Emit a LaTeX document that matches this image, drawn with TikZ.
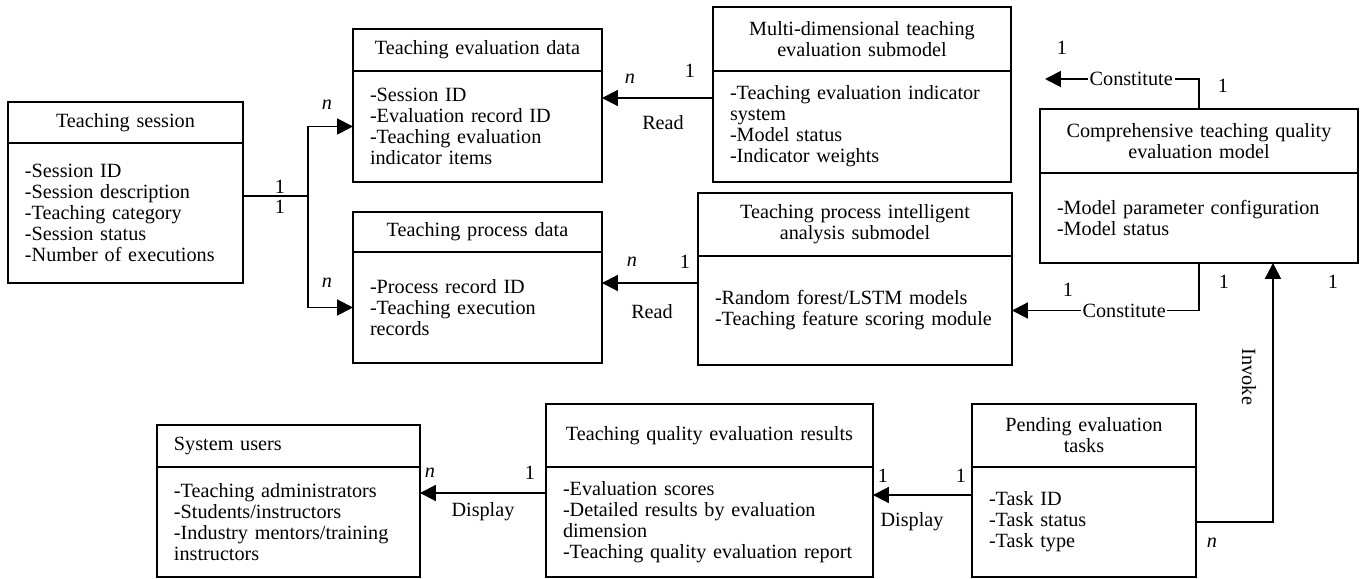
\documentclass[tikz,border=0pt]{standalone}
\usepackage{fontspec}
\setmainfont{Liberation Serif}
\usetikzlibrary{arrows.meta, positioning}

\tikzset{
    every node/.style={font=\fontsize{11.5}{12}\selectfont},
    head/.style={draw, line width=1.1pt, anchor=north west, inner xsep=0.34cm, inner ysep=0pt, outer sep=0pt, align=center},
    body/.style={draw, line width=1.1pt, anchor=north west, inner xsep=0.34cm, inner ysep=0pt, outer sep=0pt, align=left},
    conn/.style={line width=1.1pt},
    arr/.style={conn, -{Triangle[length=9pt, width=9pt]}},
    cut/.style={fill=white, inner sep=1pt}
}

\begin{document}
\begin{tikzpicture}[x=0.02cm, y=-0.02cm]
                    \useasboundingbox (0,0) rectangle (1365,578);

                    \node[head, text width=4.02cm, minimum height=0.82cm] (sess) at (8,102) {Teaching session};
                    \node[body, text width=4.02cm, minimum height=2.80cm] (sessB) at (8,143) {-Session ID\\-Session description\\-Teaching category\\-Session status\\-Number of executions};

                    \node[head, text width=4.30cm, minimum height=0.84cm] (evd) at (353,29) {Teaching evaluation data};
                    \node[body, text width=4.30cm, minimum height=2.22cm] (evdB) at (353,71) {-Session ID\\-Evaluation record ID\\-Teaching evaluation\\indicator items};

                    \node[head, text width=4.30cm, minimum height=0.80cm] (tpd) at (353,212) {Teaching process data};
                    \node[body, text width=4.30cm, minimum height=2.22cm] (tpdB) at (353,252) {-Process record ID\\-Teaching execution\\records};

                    \node[head, text width=5.28cm, minimum height=1.28cm] (multi) at (713,7) {Multi-dimensional teaching\\evaluation submodel};
                    \node[body, text width=5.28cm, minimum height=2.22cm] (multiB) at (713,71) {-Teaching evaluation indicator\\system\\-Model status\\-Indicator weights};

                    \node[head, text width=5.60cm, minimum height=1.26cm] (tps) at (698,193) {Teaching process intelligent\\analysis submodel};
                    \node[body, text width=5.60cm, minimum height=2.18cm] (tpsB) at (698,256) {-Random forest/LSTM models\\-Teaching feature scoring module};

                    \node[head, text width=5.68cm, minimum height=1.28cm] (comp) at (1040,109) {Comprehensive teaching quality\\evaluation model};
                    \node[body, text width=5.68cm, minimum height=1.80cm] (compB) at (1040,173) {-Model parameter configuration\\-Model status};

                    \node[head, align=left, text width=4.58cm, minimum height=0.84cm] (users) at (157,425) {System users};
                    \node[body, text width=4.58cm, minimum height=2.20cm] (usersB) at (157,467) {-Teaching administrators\\-Students/instructors\\-Industry mentors/training\\instructors};

                    \node[head, text width=5.86cm, minimum height=1.26cm] (res) at (546,404) {Teaching quality evaluation results};
                    \node[body, text width=5.86cm, minimum height=2.20cm] (resB) at (546,467) {-Evaluation scores\\-Detailed results by evaluation\\dimension\\-Teaching quality evaluation report};

                    \node[head, text width=3.80cm, minimum height=1.26cm] (pend) at (972,404) {Pending evaluation\\tasks};
                    \node[body, text width=3.80cm, minimum height=2.20cm] (pendB) at (972,467) {-Task ID\\-Task status\\-Task type};

                    % session splits into the two data stores
                    \coordinate (split) at (308,196);
                    \draw[conn] (sessB.east |- split) -- (split);
                    \draw[arr] (split) |- (evdB.west);
                    \draw[arr] (split) |- (tpdB.west);

                    \draw[arr] (multiB.west |- 0,98) -- (evdB.east |- 0,98);
                    \draw[arr] (tpsB.west |- 0,283) -- (tpdB.east |- 0,283);

                    \coordinate (cfree) at (1045,79);
                    \draw[arr] (comp.north) |- node[cut, pos=0.72] (cst1) {Constitute} (cfree);
                    \draw[arr] (compB.south) |- node[cut, pos=0.70] (cst2) {Constitute} (tpsB.east);
                    \draw[arr] (pendB.east) -| node[pos=0.78, rotate=-90, anchor=north, inner sep=9pt] (inv) {Invoke} ([xshift=1.48cm]compB.south);

                    \draw[arr] (pendB.west |- 0,495) -- (resB.east |- 0,495);
                    \draw[arr] (resB.west |- 0,493) -- (usersB.east |- 0,493);

                    % multiplicities and relation names
                    \node (s1) at (280,187) {1};
                    \node (s2) at (280,207) {1};
                    \node (s3) at (327,105) {\textit{n}};
                    \node (s4) at (327,283) {\textit{n}};
                    \node (e1) at (630,79) {\textit{n}};
                    \node (e2) at (690,71) {1};
                    \node (rd1) at (663,123) {Read};
                    \node (p1) at (632,262) {\textit{n}};
                    \node (p2) at (685,262) {1};
                    \node (rd2) at (652,312) {Read};
                    \node (c1) at (1062,48) {1};
                    \node (c2) at (1223,86) {1};
                    \node (c3) at (1068,290) {1};
                    \node (c4) at (1224,282) {1};
                    \node (c5) at (1333,282) {1};
                    \node (t1) at (1212,543) {\textit{n}};
                    \node (t2) at (961,476) {1};
                    \node (r1) at (883,476) {1};
                    \node (dp1) at (912,522) {Display};
                    \node (u1) at (430,473) {\textit{n}};
                    \node (u2) at (530,473) {1};
                    \node (dp2) at (483,512) {Display};
                \end{tikzpicture}
\end{document}
